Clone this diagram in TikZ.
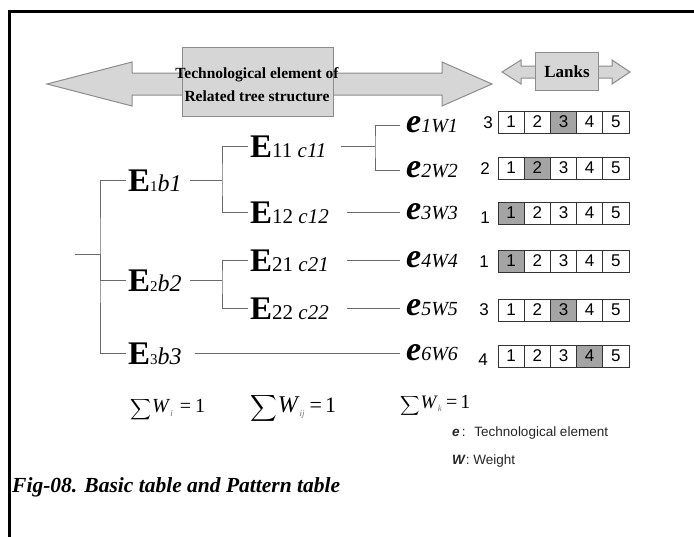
\documentclass[tikz,border=0pt]{standalone}
\usepackage{fontspec}
\setmainfont{Liberation Serif}
\newfontfamily\arialf{Liberation Sans}
\definecolor{boxgray}{HTML}{D6D6D6}
\definecolor{edgegray}{HTML}{8C8C8C}
\definecolor{linegray}{HTML}{6A6A6A}
\definecolor{cellgray}{HTML}{A4A4A4}
\newcommand\topE[2]{{\fontsize{33}{33}\selectfont\bfseries E}{\fontsize{15}{15}\selectfont #1}{\fontsize{24}{24}\selectfont\itshape #2}}
\newcommand\subE[2]{{\fontsize{33}{33}\selectfont\bfseries E}{\fontsize{21}{21}\selectfont #1\ \itshape #2}}
\newcommand\elem[1]{{\fontsize{34}{34}\selectfont\bfseries\itshape e}{\fontsize{20}{20}\selectfont\itshape #1}}
\newcommand\bigsum[1]{\scalebox{#1}{$\displaystyle\sum$}}
\tikzset{
  treeline/.style={draw=linegray, line width=0.9pt},
  Elab/.style={anchor=west, inner xsep=2pt, inner ysep=0pt, text height=22pt, text depth=0pt},
  elab/.style={anchor=west, inner xsep=6pt, inner ysep=0pt, text height=15pt, text depth=0pt},
  cell/.style={draw=black!80, line width=0.7pt, minimum width=26.2pt, minimum height=22pt, inner sep=0pt, font=\arialf\fontsize{17}{17}\selectfont},
  rank/.style={font=\arialf\fontsize{17}{17}\selectfont, inner sep=0pt},
  arrowshape/.style={fill=boxgray, draw=edgegray, line width=1pt},
  titlebox/.style={fill=boxgray, draw=edgegray, line width=1pt, inner sep=0pt, align=center},
  legend/.style={anchor=west, inner sep=0pt, text=black!85, font=\arialf\fontsize{13.5}{14}\selectfont},
}
\begin{document}
\begin{tikzpicture}[x=1pt,y=-1pt]
\useasboundingbox (0,0) rectangle (694,536);
\fill[white] (0,0) rectangle (694,536);
% frame
\draw[line width=3pt] (9.5,540) -- (9.5,11.5) -- (700,11.5);

% big double arrow
\draw[arrowshape] (47,84) -- (132,62) -- (132,73) -- (442,73) -- (442,62) -- (492,84)
   -- (442,106) -- (442,95) -- (132,95) -- (132,106) -- cycle;
\node[titlebox, minimum width=151pt, minimum height=69pt] (tb) at (257.5,81.5) {};
\node[font=\fontsize{15.5}{23}\selectfont\bfseries, align=center] (tt) at (257,85)
   {Technological element of\\Related tree structure};

% Lanks arrow
\draw[arrowshape] (502,72) -- (521,60) -- (521,66) -- (612,66) -- (612,60) -- (630,72)
   -- (612,84) -- (612,78) -- (521,78) -- (521,84) -- cycle;
\node[titlebox, minimum width=63pt, minimum height=38pt] (lb) at (567,71) {};
\node[font=\fontsize{17}{17}\selectfont\bfseries] (lt) at (567,72) {Lanks};

% tree nodes
\node[Elab] (E1) at (126,180) {\topE{1}{b1}};
\node[Elab] (E2) at (126,280) {\topE{2}{b2}};
\node[Elab] (E3) at (126,353) {\topE{3}{b3}};
\node[Elab] (E11) at (248,146) {\subE{11}{c11}};
\node[Elab] (E12) at (248,212) {\subE{12}{c12}};
\node[Elab] (E21) at (248,260) {\subE{21}{c21}};
\node[Elab] (E22) at (248,308) {\subE{22}{c22}};

\node[elab] (e1) at (400,125) {\elem{1W1}};
\node[elab] (e2) at (400,170) {\elem{2W2}};
\node[elab] (e3) at (400,212) {\elem{3W3}};
\node[elab] (e4) at (400,260) {\elem{4W4}};
\node[elab] (e5) at (400,308) {\elem{5W5}};
\node[elab] (e6) at (400,353) {\elem{6W6}};

% tree connectors
\coordinate (root) at (75,254);
\coordinate (v0) at (100,254);
\coordinate (v1) at (222,180);
\coordinate (v2) at (222,280);
\coordinate (v3) at (375,146);
\draw[treeline] (root) -- (v0);
\draw[treeline] (E1.west) -| (v0) |- (E3.west);
\draw[treeline] (v0) |- (E2.west);
\draw[treeline, shorten <=6pt] (E1.east) -- (v1);
\draw[treeline] (E11.west) -| (v1) |- (E12.west);
\draw[treeline, shorten <=6pt] (E2.east) -- (v2);
\draw[treeline] (E21.west) -| (v2) |- (E22.west);
\draw[treeline, shorten <=12pt] (E11.east) -- (v3);
\draw[treeline] (e1.west) -| (v3) |- (e2.west);
\draw[treeline, shorten <=16pt] (E12.east) -- (e3.west);
\draw[treeline, shorten <=16pt] (E21.east) -- (e4.west);
\draw[treeline, shorten <=16pt] (E22.east) -- (e5.west);
\draw[treeline, shorten <=11pt] (E3.east) -- (e6.west);

% rank tables
\foreach \r/\y/\s/\nx/\ny in {1/122/3/488/123, 2/168/2/485/169, 3/213/1/485/218, 4/261/1/484/262, 5/310/3/484/310, 6/356/4/483/360}{
  \node[rank] (n\r) at (\nx,\ny) {\s};
  \foreach \i in {1,...,5}{
    \ifnum\i=\s \def\fc{cellgray}\else\def\fc{white}\fi
    \node[cell, fill=\fc] (c\r-\i) at ({511.1+(\i-1)*26.2},\y) {\i};
  }
}

% sums
\node[anchor=base west, inner sep=0pt] (s1) at (130,412)
  {\raisebox{-1pt}{\bigsum{1.45}}\kern1pt{\fontsize{20}{20}\selectfont\textit{W}}\raisebox{-4pt}{\fontsize{9}{9}\selectfont\color{black!55}\textit{i}}\kern7pt{\fontsize{20}{20}\selectfont=\kern4pt1}};
\node[anchor=base west, inner sep=0pt] (s2) at (250,412)
  {\raisebox{-1pt}{\bigsum{1.85}}\kern1pt{\fontsize{24}{24}\selectfont\textit{W}}\raisebox{-4pt}{\fontsize{9}{9}\selectfont\color{black!55}\textit{ij}}\kern5pt{\fontsize{22}{22}\selectfont=\kern3pt1}};
\node[anchor=base west, inner sep=0pt] (s3) at (400,408)
  {\raisebox{-1pt}{\bigsum{1.35}}\kern1pt{\fontsize{19}{19}\selectfont\textit{W}}\raisebox{-3pt}{\fontsize{9}{9}\selectfont\color{black!55}\textit{k}}\kern4pt{\fontsize{20}{20}\selectfont=\kern3pt1}};

% legend
\node[legend] (lg1) at (452,433) {\textbf{\textit{e}}\,:\; Technological element};
\node[legend] (lg2) at (452,461) {\textbf{\textit{W}}: Weight};

% caption
\node[anchor=west, inner sep=0pt, font=\fontsize{21.5}{22}\selectfont\bfseries\itshape] (cap) at (12,487)
  {Fig-08. Basic table and Pattern table};
\end{tikzpicture}
\end{document}
